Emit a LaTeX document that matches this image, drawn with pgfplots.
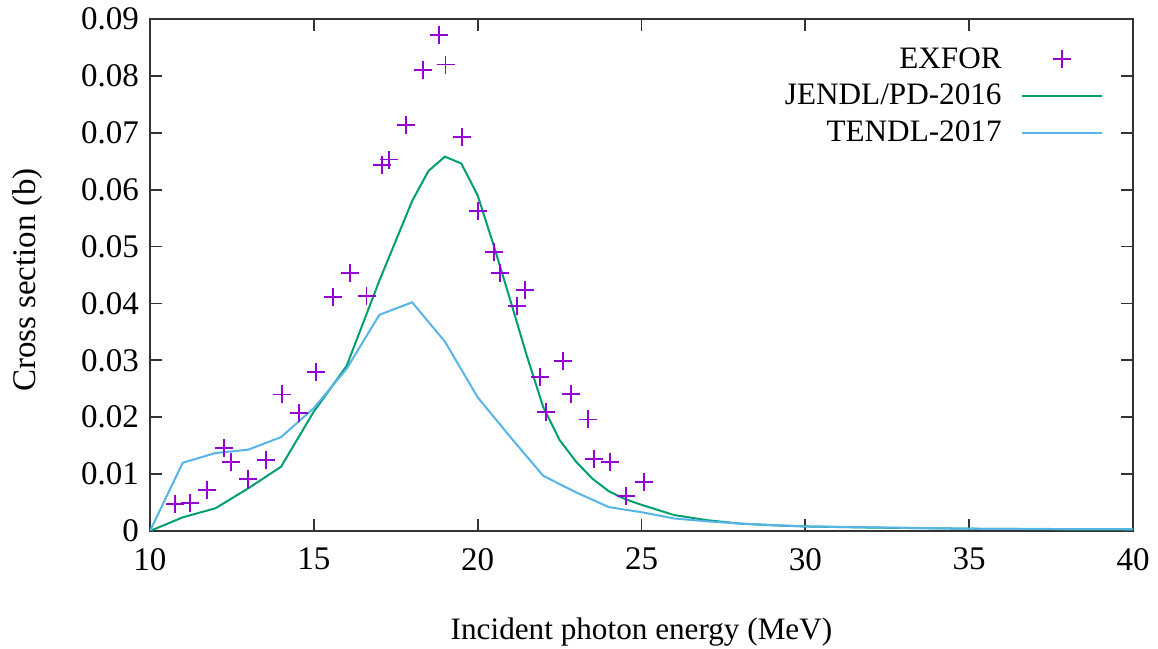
\documentclass[border=0pt]{standalone}
\usepackage{fontspec}
\setmainfont{Liberation Serif}
\usepackage{pgfplots}
\pgfplotsset{compat=1.18}
\usetikzlibrary{calc}
\definecolor{exfor}{HTML}{9400D3}
\definecolor{jendl}{HTML}{009E73}
\definecolor{tendl}{HTML}{56B4E9}
\pgfplotsset{
  lineleg/.style={legend image code/.code={\draw[##1] (0pt,0pt) -- (40pt,0pt);}},
  markleg/.style={legend image code/.code={\draw[##1] plot coordinates {(20pt,0pt)};}},
}
\begin{document}
\begin{tikzpicture}[font=\fontsize{15.6}{18}\selectfont]
\begin{axis}[
  name=ax,
  scale only axis,
  width=491.5pt, height=256pt,
  xmin=10, xmax=40, ymin=0, ymax=0.09,
  xtick={10,15,...,40},
  ytick={0,0.01,...,0.09},
  scaled y ticks=false,
  yticklabel style={/pgf/number format/fixed,/pgf/number format/precision=2, xshift=-2pt,
    font=\fontsize{16.5}{19}\selectfont},
  xticklabel style={yshift=-5pt, font=\fontsize{16.5}{19}\selectfont},
  /pgf/number format/assume math mode=true,
  tick align=inside,
  major tick length=6pt,
  axis line style={black!80, line width=0.9pt},
  every tick/.style={black!80, line width=0.9pt},
  xlabel={Incident photon energy (MeV)},
  ylabel={Cross section (b)},
  every axis x label/.style={at={(axis description cs:0.5,-0.197)}, anchor=center},
  every axis y label/.style={at={(axis description cs:-0.125,0.49)}, rotate=90, anchor=center,
    font=\fontsize{16.5}{19}\selectfont},
  legend plot pos=right,
  legend cell align=right,
  legend style={draw=none, fill=none, at={(axis description cs:1,1)}, anchor=north east,
    xshift=-12pt, yshift=-10pt, row sep=2.5pt,
    nodes={inner sep=2pt},
    /tikz/every odd column/.append style={column sep=7.5pt}},
]
\addplot[only marks, mark=+, mark size=4.5pt, color=exfor, line width=0.9pt, markleg]
coordinates {
(10.77,0.0047)(11.23,0.0049)(11.74,0.0072)(12.25,0.0146)(12.47,0.0121)
(12.99,0.0091)(13.54,0.0125)(14.04,0.0240)(14.54,0.0208)(15.07,0.0279)
(15.59,0.0412)(16.10,0.0453)(16.61,0.0413)(17.09,0.0644)(17.30,0.0653)
(17.81,0.0713)(18.34,0.0810)(18.82,0.0872)(19.02,0.0820)(19.51,0.0692)
(20.00,0.0562)(20.51,0.0490)(20.69,0.0453)(21.20,0.0396)(21.44,0.0424)
(21.90,0.0271)(22.08,0.0209)(22.60,0.0299)(22.84,0.0241)(23.36,0.0196)
(23.54,0.0126)(24.03,0.0121)(24.52,0.0061)(25.07,0.0086)
};
\addlegendentry{EXFOR}
\addplot[color=jendl, line width=1pt, no marks, lineleg]
coordinates {
(10,0)(11,0.0024)(12,0.0040)(13,0.0075)(14,0.0113)(15,0.0210)(16,0.0290)
(17,0.0440)(18,0.0580)(18.5,0.0633)(19,0.0658)(19.5,0.0646)(20,0.0590)
(20.5,0.0500)(21,0.0405)(21.5,0.0308)(22,0.0218)(22.5,0.0160)(23,0.0122)
(23.5,0.0092)(24,0.0070)(24.5,0.0056)(25,0.0046)(26,0.0028)(27,0.0019)
(28,0.0013)(29,0.0010)(30,0.0008)(32,0.0006)(35,0.0004)(38,0.0003)(40,0.0003)
};
\addlegendentry{JENDL/PD-2016}
\addplot[color=tendl, line width=1pt, no marks, lineleg]
coordinates {
(10,0)(11,0.0120)(12,0.0137)(13,0.0143)(14,0.0165)(15,0.0216)(16,0.0285)
(17,0.0380)(18,0.0402)(19,0.0333)(20,0.0235)(21,0.0165)(22,0.0097)
(23,0.0068)(24,0.0042)(25,0.0033)(26,0.0022)(27,0.0017)(28,0.0013)
(30,0.0008)(35,0.0004)(40,0.0003)
};
\addlegendentry{TENDL-2017}
\end{axis}
\pgfresetboundingbox
\path[use as bounding box] ($(ax.south west)+(-75pt,-59pt)$) rectangle ($(ax.north east)+(12.5pt,9.5pt)$);
\end{tikzpicture}
\end{document}
